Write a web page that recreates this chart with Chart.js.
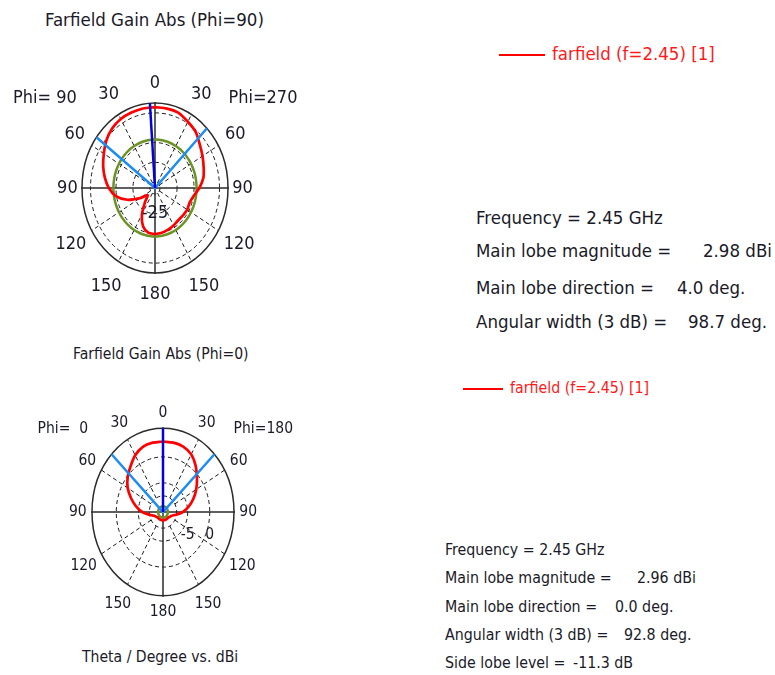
<!DOCTYPE html>
<html><head><meta charset="utf-8">
<script src="https://cdn.jsdelivr.net/npm/chart.js@4/dist/chart.umd.min.js"></script>
<style>
html,body{margin:0;padding:0;background:#fff;width:775px;height:675px;overflow:hidden;}
body{position:relative;font-family:"DejaVu Sans Condensed","DejaVu Sans",sans-serif;color:#1a1a28;}
.t{position:absolute;white-space:pre;}
.ln{position:absolute;height:2px;background:#ff0000;}
canvas{position:absolute;}
</style></head><body>
<canvas id="topChart" width="310" height="256" style="left:0;top:60px"></canvas>
<canvas id="botChart" width="326" height="244" style="left:0;top:390px"></canvas>
<script>
// ---------- data ----------
const THETA_DEG = [0,10,20,30,40,50,60,70,80,90,100,110,120,130,140,150,160,170,180];
// Farfield Gain Abs (Phi=90) cut, dBi : left half = Phi 90, right half = Phi 270
const GAIN_PHI90  = [2.9, 2.85, 2.6, 2.3, 1.3, -0.6, -3.2, -5.5, -8.0, -10.8, -14.6, -20.6, -27.8, -32.4, -29.0, -22.6, -17.4, -15.1, -14.7];
const GAIN_PHI270 = [2.9, 2.8, 2.5, 0.7, -0.85, -3.6, -5.7, -7.5, -9.1, -11.9, -14.9, -16.3, -16.1, -16.5, -16.7, -16.1, -15.6, -15.0, -14.7];
// Farfield Gain Abs (Phi=0) cut, dBi : left half = Phi 0, right half = Phi 180
const GAIN_PHI0   = [2.96, 2.94, 2.75, 2.0, 0.85, -0.14, -1.36, -2.9, -4.4, -5.9, -7.5, -8.5, -8.8, -9.0, -9.0, -9.0, -9.0, -9.0, -9.0];
const GAIN_PHI180 = [2.96, 2.94, 2.8, 2.2, 0.94, -0.54, -1.9, -3.3, -4.7, -6.1, -7.6, -8.5, -8.8, -9.0, -9.0, -9.0, -9.0, -9.0, -9.0];

const ANGLE_TICKS = [0,30,60,90,120,150,180];
const SPOKE_ANGLES = [30,60,120,150];
const RING_DB_TOP = [-35,-25,-15,0];
const RING_DB_BOT = [-7.5,-5,0];
const RING_LABELS_TOP = [-25];
const RING_LABELS_BOT = [-5,0];
const LEVEL_TOP = -13.5;   // green reference circle
const LEVEL_BOT = -9.5;

const FREQ_GHZ = 2.45;
const MAIN_MAG = [2.98, 2.96];
const MAIN_DIR = [4.0, 0.0];
const ANG_WIDTH = [98.7, 92.8];
const SIDE_LOBE_BOT = -11.3;
const LEGEND_NAME = 'farfield (f=2.45) [1]';

// ---------- helpers ----------
const FONT = '"DejaVu Sans Condensed","DejaVu Sans",sans-serif';
function norm(db, lo, hi){ return (db - lo) / (hi - lo); }
function pt(signedDeg, f){ const a = signedDeg*Math.PI/180; return {x: f*Math.sin(a), y: f*Math.cos(a)}; }

function buildPolar(o){
  const red = [];
  THETA_DEG.forEach((t,i)=> red.push(pt(t, norm(o.right[i], o.lo, o.hi))));
  for (let i = THETA_DEG.length-1; i >= 0; i--) red.push(pt(-THETA_DEG[i], norm(o.left[i], o.lo, o.hi)));
  const green = [];
  for (let a = 0; a <= 360; a += 5) green.push(pt(a, norm(o.level, o.lo, o.hi)));
  const dirSigned = o.mainSide * o.mainDir;
  const main = [{x:0,y:0}, pt(dirSigned, 1)];
  const wl = [pt(dirSigned - o.width/2, 1), {x:0,y:0}, pt(dirSigned + o.width/2, 1)];

  const grid = {
    id: 'polarGrid_' + o.id,
    beforeDatasetsDraw(chart){
      const {ctx} = chart; const xs = chart.scales.x, ys = chart.scales.y;
      const cx = xs.getPixelForValue(0), cy = ys.getPixelForValue(0);
      const rx = xs.getPixelForValue(1) - cx, ry = cy - ys.getPixelForValue(1);
      const P = (p)=>[xs.getPixelForValue(p.x), ys.getPixelForValue(p.y)];
      ctx.save();
      ctx.strokeStyle = '#1a1a1a'; ctx.lineWidth = 1; ctx.setLineDash([4,3]);
      let fmin = 1;
      o.rings.forEach(v=>{ const f = norm(v, o.lo, o.hi); fmin = Math.min(fmin, f);
        ctx.beginPath(); ctx.ellipse(cx, cy, rx*f, ry*f, 0, 0, 2*Math.PI); ctx.stroke(); });
      SPOKE_ANGLES.forEach(t=>[1,-1].forEach(s=>{
        const a = P(pt(s*t, fmin)), b = P(pt(s*t, 1));
        ctx.beginPath(); ctx.moveTo(a[0],a[1]); ctx.lineTo(b[0],b[1]); ctx.stroke(); }));
      ctx.setLineDash([]);
      ctx.strokeStyle = '#2b2b2b'; ctx.lineWidth = 1.5;
      ctx.beginPath(); ctx.ellipse(cx, cy, rx, ry, 0, 0, 2*Math.PI); ctx.stroke();
      ctx.beginPath(); ctx.moveTo(cx - rx - 1, cy); ctx.lineTo(cx + rx + 1, cy);
      ctx.moveTo(cx, cy - ry - 1); ctx.lineTo(cx, cy + ry + 1); ctx.stroke();
      ctx.restore();
    },
    afterDatasetsDraw(chart){
      const {ctx} = chart; const xs = chart.scales.x, ys = chart.scales.y;
      const P = (p)=>[xs.getPixelForValue(p.x), ys.getPixelForValue(p.y)];
      ctx.save();
      ctx.fillStyle = '#1a1a28'; ctx.textAlign = 'center'; ctx.textBaseline = 'middle';
      ctx.font = o.fs + 'px ' + FONT;
      ANGLE_TICKS.forEach((t,i)=>{
        const sides = (t === 0 || t === 180) ? [1] : [1,-1];
        sides.forEach(s=>{ const q = P(pt(s*t, o.labelR[i])); ctx.fillText(String(t), q[0], q[1]); });
      });
      let q = P(o.phiPos[0]); ctx.fillText(o.phiLeft, q[0], q[1]);
      q = P(o.phiPos[1]); ctx.fillText(o.phiRight, q[0], q[1]);
      o.ringLabels.forEach(v=>{ const p = o.ringLabelPos(norm(v, o.lo, o.hi)); const r = P(p); ctx.fillText(String(v), r[0], r[1]); });
      ctx.restore();
    }
  };

  return new Chart(document.getElementById(o.id), {
    type: 'scatter',
    data: { datasets: [
      {label:'Main lobe direction', data: main, borderColor:'#0000e0', borderWidth:2.5, showLine:true, pointRadius:0, order:0},
      {label:'Angular width (3 dB)', data: wl, borderColor:'#1c8cf5', borderWidth:2.5, showLine:true, pointRadius:0, order:1},
      {label: LEGEND_NAME, data: red, borderColor:'#ff0000', borderWidth:2.7, showLine:true, pointRadius:0, tension:0.3, order:2},
      {label:'level', data: green, borderColor:'#6b9325', borderWidth:2.5, showLine:true, pointRadius:0, tension:0.4, order:3}
    ]},
    options: {
      responsive:false, animation:false, maintainAspectRatio:false,
      layout:{padding:0},
      plugins:{legend:{display:false}, tooltip:{enabled:false}},
      scales:{ x:{type:'linear', min:-o.xm, max:o.xm, display:false}, y:{type:'linear', min:-o.ym, max:o.ym, display:false} }
    },
    plugins:[grid]
  });
}

buildPolar({
  id:'topChart', right:GAIN_PHI270, left:GAIN_PHI90, lo:-38, hi:5, level:LEVEL_TOP,
  mainDir:MAIN_DIR[0], mainSide:-1, width:ANG_WIDTH[0], rings:RING_DB_TOP, ringLabels:RING_LABELS_TOP,
  ringLabelPos:(f)=>({x:0, y:-f}),
  labelR:[1.235,1.27,1.27,1.2,1.33,1.34,1.25], phiLeft:'Phi= 90', phiRight:'Phi=270',
  phiPos:[{x:-1.507,y:1.055},{x:1.479,y:1.055}], fs:18, xm:155/73, ym:128/85
});
buildPolar({
  id:'botChart', right:GAIN_PHI180, left:GAIN_PHI0, lo:-10.6, hi:5.5, level:LEVEL_BOT,
  mainDir:MAIN_DIR[1], mainSide:1, width:ANG_WIDTH[1], rings:RING_DB_BOT, ringLabels:RING_LABELS_BOT,
  ringLabelPos:(f)=>({x:f, y:-0.275}),
  labelR:[1.18,1.23,1.23,1.2,1.29,1.27,1.19], phiLeft:'Phi=  0', phiRight:'Phi=180',
  phiPos:[{x:-1.411,y:0.988},{x:1.413,y:0.988}], fs:15.5, xm:163/71, ym:122/83.7
});

// ---------- text blocks ----------
function addText(str, left, cy, fs, color){
  const d = document.createElement('div'); d.className = 't'; d.textContent = str;
  d.style.left = left + 'px'; d.style.top = (cy - fs/2) + 'px'; d.style.fontSize = fs + 'px';
  d.style.lineHeight = fs + 'px'; if (color) d.style.color = color; document.body.appendChild(d);
}
function addLine(x1, x2, y){
  const d = document.createElement('div'); d.className = 'ln';
  d.style.left = x1 + 'px'; d.style.width = (x2 - x1) + 'px'; d.style.top = (y - 1) + 'px'; document.body.appendChild(d);
}
addText('Farfield Gain Abs (Phi=90)', 45, 20, 18.5);
addText('Farfield Gain Abs (Phi=0)', 73, 355, 15.6);
addText('Theta / Degree vs. dBi', 82, 658, 15.6);

addLine(499, 545, 55); addText(LEGEND_NAME, 552, 54, 18.5, '#ff1a1a');
addText('Frequency = ' + FREQ_GHZ.toFixed(2) + ' GHz', 476, 218, 18.5);
addText('Main lobe magnitude =', 476, 251, 18.5); addText(MAIN_MAG[0].toFixed(2) + ' dBi', 703, 251, 18.5);
addText('Main lobe direction =', 476, 288, 18.5); addText(MAIN_DIR[0].toFixed(1) + ' deg.', 677, 288, 18.5);
addText('Angular width (3 dB) =', 476, 322, 18.5); addText(ANG_WIDTH[0].toFixed(1) + ' deg.', 688, 322, 18.5);

addLine(463, 503, 389); addText(LEGEND_NAME, 510, 388, 15.8, '#ff1a1a');
addText('Frequency = ' + FREQ_GHZ.toFixed(2) + ' GHz', 445, 550, 15.8);
addText('Main lobe magnitude =', 445, 578, 15.8); addText(MAIN_MAG[1].toFixed(2) + ' dBi', 637, 578, 15.8);
addText('Main lobe direction =', 445, 607, 15.8); addText(MAIN_DIR[1].toFixed(1) + ' deg.', 615, 607, 15.8);
addText('Angular width (3 dB) =', 445, 635, 15.8); addText(ANG_WIDTH[1].toFixed(1) + ' deg.', 624, 635, 15.8);
addText('Side lobe level =', 445, 663, 15.8); addText(SIDE_LOBE_BOT.toFixed(1) + ' dB', 573, 663, 15.8);
</script>
</body></html>
